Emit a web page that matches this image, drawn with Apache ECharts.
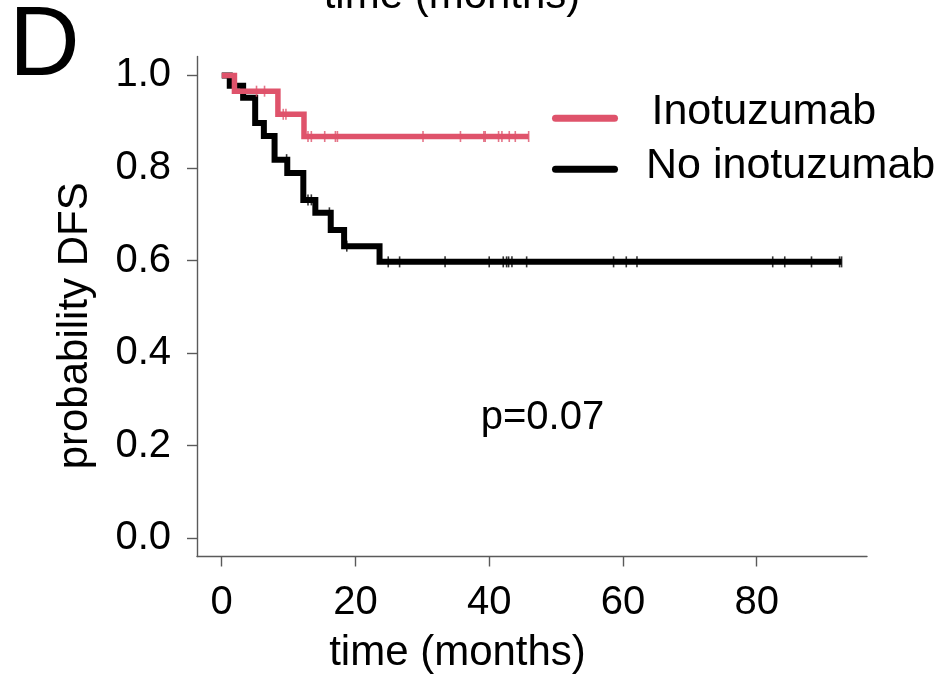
<!DOCTYPE html>
<html>
<head>
<meta charset="utf-8">
<script src="https://cdn.jsdelivr.net/npm/echarts@6/dist/echarts.min.js"></script>
<style>html,body{margin:0;padding:0;background:#fff}#c{width:945px;height:678px}</style>
</head>
<body>
<div id="c"></div>
<script>
// ---- data ----
const seriesNames = ['Inotuzumab', 'No inotuzumab'];
const xTicks = [0, 20, 40, 60, 80];
const yTicks = [0, 0.2, 0.4, 0.6, 0.8, 1.0];

const inoEventTimes = [1.9, 8.4, 12.3];
const inoSurvival   = [0.966, 0.916, 0.868];
const inoCensorTimes = [5.2, 6.4, 9.2, 9.6, 12.9, 13.4, 15.4, 17.0, 17.3, 30.1, 35.7, 39.2, 39.4, 41.4, 41.9, 43.0, 43.9, 45.9];

const noEventTimes = [1.2, 3.2, 5.0, 6.3, 7.9, 9.8, 12.2, 14.0, 16.3, 18.3, 23.6];
const noSurvival   = [0.978, 0.952, 0.897, 0.869, 0.818, 0.789, 0.731, 0.703, 0.666, 0.631, 0.597];
const noCensorTimes = [9.7, 12.9, 13.4, 16.1, 18.7, 24.9, 26.6, 33.4, 40.0, 42.1, 42.6, 42.9, 43.4, 45.6, 58.6, 60.5, 62.1, 82.4, 84.2, 88.2, 92.4, 92.7];

const pValueText = 'p=0.07';

// ---- helpers ----
function survAt(times, vals, t) {
  let s = 1;
  for (let i = 0; i < times.length; i++) { if (times[i] <= t) s = vals[i]; }
  return s;
}
function stepData(times, vals, censors) {
  const end = Math.max(times[times.length - 1], censors[censors.length - 1]);
  const d = [[0, 1]];
  times.forEach((t, i) => d.push([t, vals[i]]));
  d.push([end, survAt(times, vals, end)]);
  return d;
}
function censorData(times, vals, censors) {
  return censors.map(t => [t, survAt(times, vals, t)]);
}

const FONT = 'Liberation Sans';
const RED = '#DF536B', BLACK = '#000000';
const axisColor = '#5a5a5a';

const chart = echarts.init(document.getElementById('c'), null, {renderer: 'canvas'});
chart.setOption({
  animation: false,
  backgroundColor: '#fff',
  grid: {left: 197, right: 78, top: 56.5, bottom: 121.5},
  xAxis: {
    type: 'value', min: -3.7, max: 96.5,
    splitLine: {show: false},
    axisLine: {onZero: false, lineStyle: {color: axisColor, width: 1.4}},
    axisTick: {customValues: xTicks, length: 10, lineStyle: {color: axisColor, width: 1.4}},
    axisLabel: {customValues: xTicks, margin: 26, fontSize: 40, color: '#000', fontFamily: FONT}
  },
  yAxis: {
    type: 'value', min: -0.04, max: 1.041,
    splitLine: {show: false},
    axisLine: {onZero: false, lineStyle: {color: axisColor, width: 1.4}},
    axisTick: {customValues: yTicks, length: 10, lineStyle: {color: axisColor, width: 1.4}},
    axisLabel: {customValues: yTicks, margin: 26, fontSize: 40, color: '#000', fontFamily: FONT,
      formatter: v => v.toFixed(1)}
  },
  series: [
    {name: seriesNames[1], type: 'line', step: 'end', showSymbol: false, color: BLACK,
      lineStyle: {color: BLACK, width: 6, join: 'miter', cap: 'butt'},
      data: stepData(noEventTimes, noSurvival, noCensorTimes), z: 2},
    {name: seriesNames[1] + ' censored', type: 'scatter', symbol: 'rect', symbolSize: [1.6, 11],
      itemStyle: {color: BLACK}, data: censorData(noEventTimes, noSurvival, noCensorTimes), z: 3},
    {name: seriesNames[0], type: 'line', step: 'end', showSymbol: false, color: RED,
      lineStyle: {color: RED, width: 5.5, join: 'miter', cap: 'butt'},
      data: stepData(inoEventTimes, inoSurvival, inoCensorTimes), z: 4},
    {name: seriesNames[0] + ' censored', type: 'scatter', symbol: 'rect', symbolSize: [1.6, 11],
      itemStyle: {color: RED}, data: censorData(inoEventTimes, inoSurvival, inoCensorTimes), z: 5}
  ],
  graphic: [
    // panel letter and cut-off title from panel above
    {type: 'text', left: 9, top: -1, style: {text: 'D', fontSize: 98, fontFamily: FONT, fill: '#000'}},
    {type: 'text', x: 452, y: -25, style: {text: 'time (months)', fontSize: 42, fontFamily: FONT, fill: '#000', align: 'center', verticalAlign: 'top'}},
    // axis titles
    {type: 'text', x: 457.5, y: 632, style: {text: 'time (months)', fontSize: 42, fontFamily: FONT, fill: '#000', align: 'center', verticalAlign: 'top'}},
    {type: 'text', x: 75.4, y: 325.8, rotation: Math.PI / 2, style: {text: 'probability DFS', fontSize: 42, fontFamily: FONT, fill: '#000', align: 'center', verticalAlign: 'middle'}},
    // p value
    {type: 'text', x: 480.7, y: 398, style: {text: pValueText, fontSize: 40, fontFamily: FONT, fill: '#000', align: 'left', verticalAlign: 'top'}},
    // legend
    {type: 'line', shape: {x1: 555.5, y1: 118.3, x2: 614.5, y2: 118.3}, style: {stroke: RED, lineWidth: 7, lineCap: 'round'}},
    {type: 'line', shape: {x1: 555.5, y1: 169.3, x2: 614.5, y2: 169.3}, style: {stroke: BLACK, lineWidth: 7, lineCap: 'round'}},
    {type: 'text', x: 651.5, y: 91, style: {text: seriesNames[0], fontSize: 43, fontFamily: FONT, fill: '#000', align: 'left', verticalAlign: 'top'}},
    {type: 'text', x: 646, y: 145, style: {text: seriesNames[1], fontSize: 43, fontFamily: FONT, fill: '#000', align: 'left', verticalAlign: 'top'}}
  ]
});
</script>
</body>
</html>
